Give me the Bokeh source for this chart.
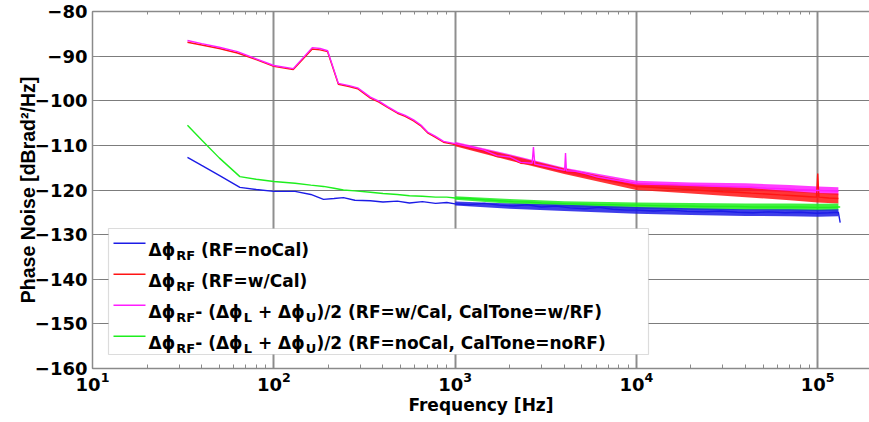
from bokeh.plotting import figure
from bokeh.models import LogAxis, Label, BoxAnnotation, FixedTicker, LogTicker
from bokeh.embed import file_html
from bokeh.resources import INLINE

# ---------------- data ----------------
freq_cal = [33.4, 40, 50, 63, 80, 100, 128, 163, 180, 198, 227, 260, 290, 341, 380, 424,
            481, 530, 590, 650, 705, 780, 863, 1000, 1200, 1436, 1700, 2000, 2300, 2660,
            2704, 2750, 3000, 3357, 3700, 4020, 4064, 4110, 4600, 5300, 6100, 7200, 8500,
            10000, 12000, 14500, 17500, 21000, 25000, 30000, 36000, 43000, 52000, 62000,
            75000, 90000, 98500, 100000, 101500, 115000, 130000]
magenta = [-86.5, -87.2, -88.0, -89.0, -90.6, -92.1, -92.8, -88.1, -88.3, -88.8, -96.1, -96.6,
           -97.1, -99.2, -100.1, -101.3, -102.6, -103.3, -104.3, -105.5, -107.0, -108.0, -109.1,
           -109.6, -110.3, -111.0, -112.3, -112.6, -113.8, -114.0, -110.4, -114.2, -114.5,
           -114.9, -115.3, -115.6, -111.7, -115.7, -115.8, -116.4, -117.1, -117.6, -118.1,
           -118.6, -118.7, -118.8, -118.9, -119.0, -119.1, -119.2, -119.3, -119.4, -119.6,
           -119.7, -119.9, -120.0, -120.1, -120.1, -120.1, -120.2, -120.3]
red = [-86.9, -87.5, -88.3, -89.3, -90.8, -92.3, -93.0, -88.4, -88.6, -89.0, -96.3, -96.8,
       -97.3, -99.4, -100.3, -101.5, -102.8, -103.5, -104.5, -105.7, -107.2, -108.2, -109.3,
       -109.8, -110.5, -111.2, -112.5, -112.8, -114.0, -114.2, -114.3, -114.4, -114.7,
       -115.1, -115.5, -115.8, -115.8, -115.9, -116.0, -116.6, -117.3, -117.9, -118.5,
       -119.2, -119.4, -119.6, -119.8, -120.0, -120.2, -120.4, -120.5, -120.7, -120.9,
       -121.1, -121.3, -121.5, -121.6, -116.3, -121.6, -121.8, -121.9]

freq_nocal = [33.4, 40, 50, 65, 80, 100, 131, 160, 188, 215, 242, 280, 341, 400, 480, 560,
              660, 780, 900, 1000, 1200, 1450, 1750, 2100, 2500, 3000, 3600, 4300, 5200, 6200,
              7400, 8800, 10000, 12500, 15500, 19000, 23500, 29000, 36000, 44000, 54000,
              66000, 80000, 98000, 115000, 130000, 133000]
blue = [-112.7, -114.5, -116.7, -119.4, -119.9, -120.3, -120.3, -121.0, -122.1, -121.9,
        -121.7, -122.3, -122.4, -122.7, -122.5, -122.9, -122.6, -123.0, -122.8, -123.1,
        -123.3, -123.0, -123.4, -123.6, -123.3, -123.8, -123.6, -124.0, -124.2, -123.9,
        -124.3, -124.5, -124.5, -124.7, -124.5, -124.8, -124.9, -124.7, -125.0, -125.1,
        -124.9, -125.1, -125.0, -125.2, -125.1, -125.0, -127.3]
green = [-105.5, -108.8, -112.8, -117.0, -117.6, -118.1, -118.5, -118.9, -119.2, -119.6,
         -120.0, -120.2, -120.5, -120.8, -121.0, -121.3, -121.4, -121.6, -121.6, -121.8,
         -121.9, -122.2, -122.4, -122.6, -122.7, -122.9, -123.0, -123.1, -123.2, -123.3,
         -123.3, -123.4, -123.4, -123.5, -123.6, -123.6, -123.7, -123.7, -123.7, -123.8,
         -123.8, -123.8, -123.8, -123.9, -123.9, -123.8, -123.8]

# noise envelopes of the dense spectra (lower / upper edge)
band_freq = [1000, 2000, 4000, 10000, 20000, 40000, 70000, 100000, 130000]
magenta_lo = [-110.0, -113.2, -116.2, -119.3, -119.9, -120.1, -120.5, -120.8, -121.2]
magenta_hi = [-109.2, -112.0, -115.0, -117.9, -118.3, -118.5, -118.9, -119.2, -119.4]
red_lo = [-110.2, -113.4, -116.4, -120.0, -120.8, -121.6, -122.3, -122.8, -123.0]
red_hi = [-109.4, -112.2, -115.2, -118.5, -119.0, -119.5, -120.2, -120.7, -120.8]
green_lo = [-122.2, -123.1, -123.7, -124.2, -124.4, -124.5, -124.6, -124.7, -124.6]
green_hi = [-121.4, -122.0, -122.5, -122.8, -122.9, -123.0, -123.0, -123.1, -123.0]
blue_lo = [-123.5, -124.2, -124.7, -125.3, -125.6, -125.8, -125.9, -126.0, -125.9]
blue_hi = [-122.6, -123.0, -123.3, -123.8, -124.1, -124.3, -124.3, -124.4, -124.3]

y_ticks = [-160, -150, -140, -130, -120, -110, -100, -90, -80]

legend_rows = [
    [("Δϕ", "m"), ("RF", "s"), (" (RF=noCal)", "m")],
    [("Δϕ", "m"), ("RF", "s"), (" (RF=w/Cal)", "m")],
    [("Δϕ", "m"), ("RF", "s"), ("- (", "m"), ("Δϕ", "m"), ("L", "s"), (" + ", "m"),
     ("Δϕ", "m"), ("U", "s"), (")/2 (RF=w/Cal, CalTone=w/RF)", "m")],
    [("Δϕ", "m"), ("RF", "s"), ("- (", "m"), ("Δϕ", "m"), ("L", "s"), (" + ", "m"),
     ("Δϕ", "m"), ("U", "s"), (")/2 (RF=noCal, CalTone=noRF)", "m")],
]

C_BLUE = "#1c1ce6"
C_RED = "#ff1414"
C_MAG = "#ff1cff"
C_GREEN = "#1eee1e"
legend_colors = [C_BLUE, C_RED, C_MAG, C_GREEN]

FONT = "DejaVu Sans"
W, H = 869, 422
FL, FT, FB = 92, 11, 368  # frame left / top / bottom in canvas pixels

p = figure(width=W, height=H, x_axis_type="log", x_range=(10, 1.93e5), y_range=(-160, -80),
           output_backend="svg", toolbar_location=None,
           min_border_left=FL, min_border_right=0, min_border_top=FT, min_border_bottom=H - FB)
p.outline_line_color = None
p.background_fill_color = "white"
p.border_fill_color = "white"

# axes
p.xaxis.ticker = LogTicker(num_minor_ticks=10)
p.yaxis.ticker = FixedTicker(ticks=y_ticks, minor_ticks=[])
for ax in (p.xaxis[0], p.yaxis[0]):
    ax.axis_line_color = "#8a8a8a"
    ax.axis_line_width = 1.5
    ax.major_tick_line_color = "#8a8a8a"
    ax.minor_tick_line_color = "#8a8a8a"
    ax.major_tick_in = 7
    ax.major_tick_out = 0
    ax.minor_tick_in = 4
    ax.minor_tick_out = 0
    ax.major_label_text_font = FONT
    ax.major_label_text_font_style = "bold"
    ax.major_label_text_font_size = "18px"
    ax.major_label_text_color = "black"
    ax.axis_label_text_font_style = "bold"
    ax.axis_label_text_color = "black"
p.xaxis.axis_label_text_font = FONT
p.xaxis.axis_label_text_font_size = "17px"
p.yaxis.axis_label_text_font = "Liberation Sans"
p.yaxis.axis_label_text_font_size = "19.5px"
p.xaxis.major_label_standoff = 3
p.xaxis.axis_label_standoff = 1
p.yaxis.major_label_standoff = 5
p.yaxis.axis_label_standoff = -7
p.xaxis.axis_label = "Frequency [Hz]"
p.yaxis.axis_label = "Phase Noise [dBrad²/Hz]"

top = LogAxis(ticker=LogTicker(num_minor_ticks=10), major_label_text_font_size="1px",
              major_label_text_color=None, major_label_standoff=0,
              axis_line_color="#8a8a8a", axis_line_width=1.5,
              major_tick_in=6, major_tick_out=0, minor_tick_in=3, minor_tick_out=0,
              major_tick_line_color="#8a8a8a", minor_tick_line_color="#8a8a8a")
p.add_layout(top, "above")

p.xgrid.grid_line_color = "#8f8f8f"
p.xgrid.grid_line_width = 2
p.ygrid.grid_line_color = "#7c7c7c"
p.ygrid.grid_line_width = 1.2

# spectra
p.varea(x=band_freq, y1=magenta_lo, y2=magenta_hi, fill_color=C_MAG, fill_alpha=0.85)
p.varea(x=band_freq, y1=red_lo, y2=red_hi, fill_color=C_RED, fill_alpha=0.85)
p.varea(x=band_freq, y1=green_lo, y2=green_hi, fill_color=C_GREEN, fill_alpha=0.85)
p.varea(x=band_freq, y1=blue_lo, y2=blue_hi, fill_color=C_BLUE, fill_alpha=0.85)
p.line(freq_nocal, blue, line_color=C_BLUE, line_width=1.4)
p.line(freq_nocal, green, line_color=C_GREEN, line_width=1.4)
p.line(freq_cal, red, line_color=C_RED, line_width=1.4)
p.line(freq_cal, magenta, line_color=C_MAG, line_width=1.4)

# ---------------- manual legend (canvas pixel helpers) ----------------
def sx(x):
    return x - FL

def sy(y):
    return FB - y

LB_L, LB_R, LB_T, LB_B = 108, 648, 228, 354
p.add_layout(BoxAnnotation(left=sx(LB_L), right=sx(LB_R), top=sy(LB_T), bottom=sy(LB_B),
                           left_units="screen", right_units="screen", top_units="screen",
                           bottom_units="screen", fill_color="white", fill_alpha=1,
                           line_color="#8a8a8a", line_width=1.2, level="annotation"))

CW = {' ': 0.348, '(': 0.457, ')': 0.457, '-': 0.415, '+': 0.838, '=': 0.838, '/': 0.365,
      ',': 0.380, '2': 0.696, 'R': 0.770, 'F': 0.683, 'C': 0.734, 'T': 0.682, 'L': 0.637,
      'U': 0.812, 'n': 0.712, 'o': 0.687, 'a': 0.675, 'l': 0.343, 'e': 0.678, 'w': 0.924,
      'Δ': 0.774, 'ϕ': 0.860}

def tw(s, size):
    return sum(CW.get(c, 0.7) for c in s) * size

MS, SS = 17, 13
row_y = [243, 274, 305, 336]
for ry, pieces, col in zip(row_y, legend_rows, legend_colors):
    p.add_layout(BoxAnnotation(left=sx(113), right=sx(145), top=sy(ry - 1), bottom=sy(ry + 0.5),
                               left_units="screen", right_units="screen", top_units="screen",
                               bottom_units="screen", fill_color=col, fill_alpha=1,
                               line_color=col, line_alpha=0, line_width=0, level="overlay"))
    x = 148
    for txt, kind in pieces:
        size = MS if kind == "m" else SS
        base = ry + 6 if kind == "m" else ry + 12
        lead = len(txt) - len(txt.lstrip(" "))
        core = txt.strip(" ")
        x += tw(" " * lead, size)
        p.add_layout(Label(x=sx(x), y=sy(base), x_units="screen", y_units="screen", text=core,
                           text_font=FONT, text_font_style="bold", text_font_size=f"{size}px",
                           text_color="black", text_baseline="alphabetic", text_align="left",
                           level="overlay"))
        x += tw(txt[lead:], size)

open("out.html", "w").write(file_html(p, INLINE))
